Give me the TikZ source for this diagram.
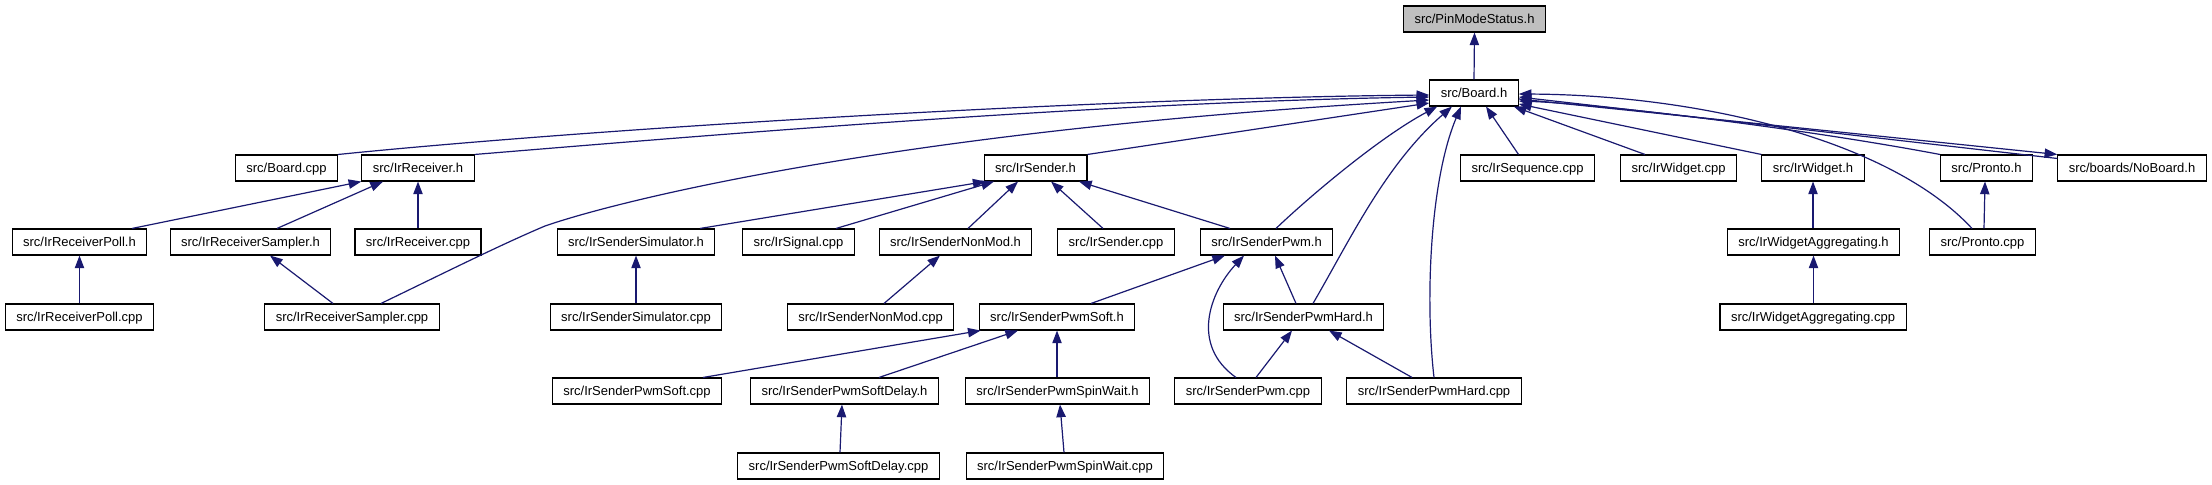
\documentclass[tikz,border=0pt]{standalone}
\usepackage{fontspec}
\setmainfont{Liberation Sans}
\usetikzlibrary{arrows.meta,calc}
\definecolor{edgeblue}{HTML}{191970}
\definecolor{focusgray}{HTML}{BFBFBF}
\tikzset{
  file/.style={draw=black, line width=0.8pt, fill=white, inner xsep=8.25pt, inner ysep=0pt,
    minimum height=19.5pt, text height=7pt, text depth=0.6pt,
    font=\fontsize{9.75pt}{11pt}\selectfont},
  focus/.style={file, fill=focusgray},
  dep/.style={draw=edgeblue, line width=0.9pt, -{Triangle[length=9.5pt,width=7pt]}}
}
\begin{document}
\begin{tikzpicture}[x=0.75pt,y=-0.75pt]
\path[fill=white] (0,0) rectangle (2212,485);
\useasboundingbox (0,0) rectangle (2212,485);
% row 0-1
\node[focus] (pin) at (1474.5,19) {src/PinModeStatus.h};
\node[file] (board) at (1474,93) {src/Board.h};
% row 2
\node[file] (boardcpp) at (286.5,168) {src/Board.cpp};
\node[file] (irrecv) at (418,168) {src/IrReceiver.h};
\node[file] (irsender) at (1035.5,168) {src/IrSender.h};
\node[file] (irseq) at (1527.5,168) {src/IrSequence.cpp};
\node[file] (irwidgetcpp) at (1678.5,168) {src/IrWidget.cpp};
\node[file] (irwidgeth) at (1813,168) {src/IrWidget.h};
\node[file] (pronto) at (1986.5,168) {src/Pronto.h};
\node[file] (noboard) at (2132,168) {src/boards/NoBoard.h};
% row 3
\node[file] (irpoll) at (79.5,242) {src/IrReceiverPoll.h};
\node[file] (irsamp) at (250.5,242) {src/IrReceiverSampler.h};
\node[file] (irrecvcpp) at (418,242) {src/IrReceiver.cpp};
\node[file] (irsim) at (636,242) {src/IrSenderSimulator.h};
\node[file] (irsignal) at (798.5,242) {src/IrSignal.cpp};
\node[file] (irnonmod) at (955.5,242) {src/IrSenderNonMod.h};
\node[file] (irsendercpp) at (1116,242) {src/IrSender.cpp};
\node[file] (irpwm) at (1266.5,242) {src/IrSenderPwm.h};
\node[file] (irwagg) at (1813.5,242) {src/IrWidgetAggregating.h};
\node[file] (prontocpp) at (1982.5,242) {src/Pronto.cpp};
% row 4
\node[file] (irpollcpp) at (79.5,317) {src/IrReceiverPoll.cpp};
\node[file] (irsampcpp) at (352,317) {src/IrReceiverSampler.cpp};
\node[file] (irsimcpp) at (636,317) {src/IrSenderSimulator.cpp};
\node[file] (irnonmodcpp) at (870.5,317) {src/IrSenderNonMod.cpp};
\node[file] (irpwmsoft) at (1057,317) {src/IrSenderPwmSoft.h};
\node[file] (irpwmhard) at (1303.5,317) {src/IrSenderPwmHard.h};
\node[file] (irwaggcpp) at (1813,317) {src/IrWidgetAggregating.cpp};
% row 5
\node[file] (irsoftcpp) at (637,391) {src/IrSenderPwmSoft.cpp};
\node[file] (irsoftdelay) at (844.5,391) {src/IrSenderPwmSoftDelay.h};
\node[file] (irspin) at (1057.5,391) {src/IrSenderPwmSpinWait.h};
\node[file] (irpwmcpp) at (1248,391) {src/IrSenderPwm.cpp};
\node[file] (irpwmhardcpp) at (1434,391) {src/IrSenderPwmHard.cpp};
% row 6
\node[file] (irsoftdelaycpp) at (838.5,466) {src/IrSenderPwmSoftDelay.cpp};
\node[file] (irspincpp) at (1065,466) {src/IrSenderPwmSpinWait.cpp};

% edges into PinModeStatus.h and Board.h
\draw[dep] (board.north) -- (pin.south);
\draw[dep] (boardcpp.north east) .. controls (600,128) and (1100,98) .. ($(board.west)+(0,2)$);
\draw[dep] (irrecv.north east) .. controls (700,136) and (1100,102) .. ($(board.west)+(0,4)$);
\draw[dep] ($(irsampcpp.north)+(29,0)$) .. controls (440,275) and (500,245) .. (545,226)
  .. controls (620,200) and (900,130) .. ($(board.west)+(0,7)$);
\draw[dep] (irsender.north east) -- ($(board.west)+(0,10)$);
\draw[dep] ($(irpwm.north)+(9.5,0)$) .. controls (1310,196) and (1380,137) .. ($(board.south west)+(8,0)$);
\draw[dep] ($(irpwmhard.north)+(9.5,0)$) .. controls (1350,240) and (1385,165) .. ($(board.south)+(-22,0)$);
\draw[dep] (irpwmhardcpp.north) .. controls (1425,300) and (1430,180) .. ($(board.south)+(-13,0)$);
\draw[dep] ($(irseq.north)+(-9,0)$) -- ($(board.south)+(12,0)$);
\draw[dep] ($(irwidgetcpp.north)+(-33.5,0)$) -- ($(board.south east)+(-5,0)$);
\draw[dep] (irwidgeth.north west) -- ($(board.east)+(0,11)$);
\draw[dep] (pronto.north west) .. controls (1800,128) and (1600,104) .. ($(board.east)+(0,8)$);
\draw[dep] ($(prontocpp.north)+(-10.5,0)$) .. controls (1890,140) and (1700,95) .. ($(board.east)+(0,1)$);
\draw[dep] ($(noboard.north west)+(0,4)$) -- ($(board.east)+(0,4)$);
\draw[dep] ($(board.east)+(0,6)$) -- (noboard.north west);

% IrReceiver group
\draw[dep] ($(irpoll.north)+(52.5,0)$) -- (irrecv.south west);
\draw[dep] ($(irsamp.north)+(26.5,0)$) -- ($(irrecv.south)+(-35,0)$);
\draw[dep] (irrecvcpp.north) -- (irrecv.south);
\draw[dep] (irpollcpp.north) -- (irpoll.south);
\draw[dep] ($(irsampcpp.north)+(-19,0)$) -- ($(irsamp.south)+(19.5,0)$);

% IrSender group
\draw[dep] ($(irsim.north)+(64,0)$) -- ($(irsender.south west)+(2,0)$);
\draw[dep] ($(irsignal.north)+(37.5,0)$) -- ($(irsender.south)+(-41.5,0)$);
\draw[dep] ($(irnonmod.north)+(12.5,0)$) -- ($(irsender.south)+(-17.5,0)$);
\draw[dep] ($(irsendercpp.north)+(-13,0)$) -- ($(irsender.south)+(15.5,0)$);
\draw[dep] ($(irpwm.north)+(-36.5,0)$) -- ($(irsender.south)+(43.5,0)$);
\draw[dep] (irsimcpp.north) -- (irsim.south);
\draw[dep] ($(irnonmodcpp.north)+(13.5,0)$) -- ($(irnonmod.south)+(-15.5,0)$);
\draw[dep] ($(irpwmsoft.north)+(34,0)$) -- ($(irpwm.south)+(-41.5,0)$);
\draw[dep] ($(irpwmhard.north)+(-7.5,0)$) -- ($(irpwm.south)+(8.5,0)$);
\draw[dep] ($(irpwmcpp.north)+(-12,0)$) .. controls (1190,345) and (1210,292) .. ($(irpwm.south)+(-22.5,0)$);
\draw[dep] ($(irpwmcpp.north)+(8,0)$) -- ($(irpwmhard.south)+(-11.5,0)$);
\draw[dep] ($(irpwmhardcpp.north)+(-22,0)$) -- ($(irpwmhard.south)+(25.5,0)$);
\draw[dep] ($(irsoftcpp.north)+(66,0)$) -- ($(irpwmsoft.south west)+(2,0)$);
\draw[dep] ($(irsoftdelay.north)+(34.5,0)$) -- ($(irpwmsoft.south)+(-39,0)$);
\draw[dep] ($(irspin.north)+(-0.5,0)$) -- (irpwmsoft.south);
\draw[dep] ($(irsoftdelaycpp.north)+(1.5,0)$) -- ($(irsoftdelay.south)+(-2.5,0)$);
\draw[dep] ($(irspincpp.north)+(-1,0)$) -- ($(irspin.south)+(2.5,0)$);

% IrWidget / Pronto group
\draw[dep] ($(irwagg.north)+(-0.5,0)$) -- (irwidgeth.south);
\draw[dep] ($(irwaggcpp.north)+(0.5,0)$) -- (irwagg.south);
\draw[dep] ($(prontocpp.north)+(1.5,0)$) -- ($(pronto.south)+(-1.5,0)$);
\end{tikzpicture}
\end{document}
